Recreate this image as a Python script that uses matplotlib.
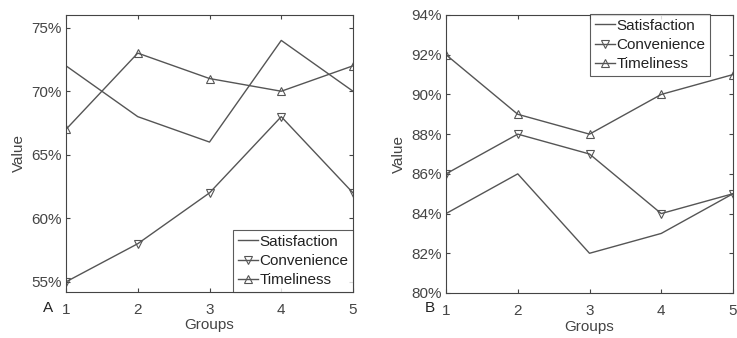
import matplotlib
matplotlib.use("Agg")
import matplotlib.pyplot as plt
from matplotlib.ticker import FuncFormatter

plt.rcParams['font.family'] = ['Liberation Sans', 'DejaVu Sans']

groups = [1, 2, 3, 4, 5]
a_satisfaction = [72, 68, 66, 74, 70]
a_convenience = [55, 58, 62, 68, 62]
a_timeliness = [67, 73, 71, 70, 72]
b_satisfaction = [84, 86, 82, 83, 85]
b_convenience = [86, 88, 87, 84, 85]
b_timeliness = [92, 89, 88, 90, 91]
a_yticks = [55, 60, 65, 70, 75]
b_yticks = [80, 82, 84, 86, 88, 90, 92, 94]

col = '#555555'
fig = plt.figure(figsize=(7.37, 3.38), dpi=100)
axA = fig.add_axes([66/737, 1-292/338, 287/737, 277/338])
axB = fig.add_axes([446/737, 1-293/338, 287/737, 278/338])

pct = FuncFormatter(lambda v, p: f"{v:.0f}%")

def style(ax, sat, con, tim, yt, ylim, loc, letter, lx):
    ax.plot(groups, sat, color=col, lw=1, label='Satisfaction')
    ax.plot(groups, con, color=col, lw=1, marker='v', ms=6, mfc='none', mec=col, mew=0.8, label='Convenience')
    ax.plot(groups, tim, color=col, lw=1, marker='^', ms=6, mfc='none', mec=col, mew=0.8, label='Timeliness')
    ax.set_xlim(1, 5)
    ax.set_ylim(*ylim)
    ax.set_xticks(groups)
    ax.set_yticks(yt)
    ax.yaxis.set_major_formatter(pct)
    ax.tick_params(direction='in', length=3, labelsize=11, colors='#444444', top=True, right=True, pad=3)
    ax.tick_params(axis='x', pad=8)
    for s in ax.spines.values():
        s.set_color('#444444')
        s.set_linewidth(0.8)
    ax.set_xlabel('Groups', fontsize=11, color='#444444', labelpad=1)
    ax.set_ylabel('Value', fontsize=11, color='#444444', labelpad=4)
    leg = ax.legend(loc=loc, fontsize=11, frameon=True, fancybox=False, borderpad=0.3,
                    handlelength=1.3, handletextpad=0.1, labelspacing=0.35, borderaxespad=0)
    leg.get_frame().set_edgecolor('#333333')
    leg.get_frame().set_linewidth(0.8)
    for t in leg.get_texts():
        t.set_color('#222222')
    fig.text(lx, 1-308/338, letter, fontsize=11, color='#222222', va='center', ha='center')

style(axA, a_satisfaction, a_convenience, a_timeliness, a_yticks, (54.2, 76), 'lower right', 'A', 48/737)
style(axB, b_satisfaction, b_convenience, b_timeliness, b_yticks, (80, 94), 'upper right', 'B', 430/737)
axB.get_legend().set_bbox_to_anchor((710/737, 1-14/338), transform=fig.transFigure)

fig.savefig('out.png', dpi=100)
